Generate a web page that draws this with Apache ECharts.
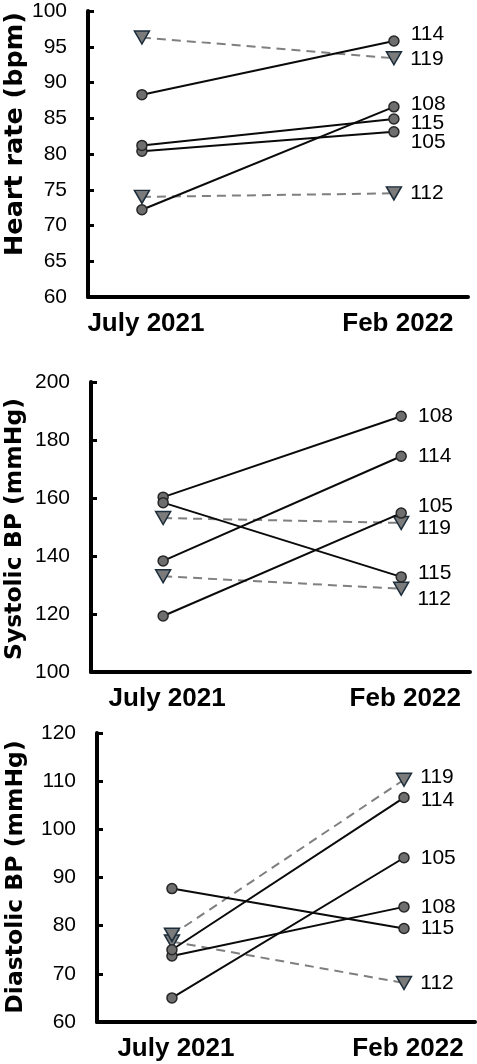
<!DOCTYPE html>
<html>
<head>
<meta charset="utf-8">
<script src="https://cdn.jsdelivr.net/npm/echarts@6/dist/echarts.min.js"></script>
<style>
html,body{margin:0;padding:0;background:#fff;}
#chart{width:477px;height:1064px;}
</style>
</head>
<body>
<div id="chart"></div>
<script>
// ---- data ----
const categories = ['July 2021', 'Feb 2022'];
const subjects = ['105', '108', '112', '114', '115', '119'];
const dashedSubjects = ['112', '119'];

const hrJuly  = [80.4, 72.2, 74.0, 88.3, 81.2, 96.3];
const hrFeb   = [83.1, 86.6, 74.5, 95.8, 84.9, 93.4];
const sbpJuly = [119.3, 160.3, 133.0, 138.3, 158.4, 153.1];
const sbpFeb  = [154.8, 188.2, 128.7, 174.4, 132.8, 151.4];
const dbpJuly = [65.0, 73.7, 76.7, 75.0, 87.7, 78.1];
const dbpFeb  = [94.1, 83.9, 68.1, 106.6, 79.4, 110.3];

const axisTitles = ['Heart rate (bpm)', 'Systolic BP (mmHg)', 'Diastolic BP (mmHg)'];
const yMin = [60, 100, 60];
const yMax = [100, 200, 120];
const yStep = [5, 20, 10];

// ---- layout / style ----
const panels = [
  { july: hrJuly, feb: hrFeb, grid: { left: 88, top: 11, width: 380, height: 286 }, xr: [-0.214, 1.294],
    title: { x: 15, y: 134, size: 25.5 },
    offs: { '114': -7, '119': 1, '108': -3, '115': 4, '105': 10, '112': 0 } },
  { july: sbpJuly, feb: sbpFeb, grid: { left: 91, top: 382, width: 379, height: 290 }, xr: [-0.303, 1.289],
    title: { x: 15, y: 529, size: 23.5 },
    offs: { '108': 0, '114': 0, '105': -7, '119': 5, '115': -4, '112': 10 } },
  { july: dbpJuly, feb: dbpFeb, grid: { left: 97, top: 733, width: 378, height: 289 }, xr: [-0.323, 1.306],
    title: { x: 16, y: 877, size: 23.5 },
    offs: { '119': -3, '114': 3, '105': 0, '108': 0, '115': 0, '112': 0 } }
];

const FONT = '"Liberation Sans", Arial, sans-serif';
const TITLE_FONT = '"DejaVu Sans", sans-serif';
const grids = [], xAxes = [], yAxes = [], series = [], graphics = [];

panels.forEach((p, i) => {
  grids.push(Object.assign({ containLabel: false, outerBoundsMode: 'none' }, p.grid));
  xAxes.push({
    type: 'value', gridIndex: i, min: p.xr[0], max: p.xr[1],
    axisLine: { show: true, onZero: false, lineStyle: { color: '#000', width: 4 } },
    axisTick: { show: false },
    splitLine: { show: false },
    axisLabel: {
      customValues: [0, 1],
      formatter: v => categories[Math.round(v)] || '',
      fontFamily: FONT, fontWeight: 'bold', fontSize: 26, color: '#000', margin: 14,
      padding: [0, 0, 0, 8]
    }
  });
  yAxes.push({
    type: 'value', gridIndex: i, min: yMin[i], max: yMax[i], interval: yStep[i],
    axisLine: { show: true, onZero: false, lineStyle: { color: '#000', width: 4 } },
    axisTick: { show: true, inside: true, length: 6, lineStyle: { color: '#000', width: 3 } },
    splitLine: { show: false },
    axisLabel: { fontFamily: FONT, fontSize: 21, color: '#000', margin: 21 }
  });
  graphics.push({
    type: 'text', x: p.title.x, y: p.title.y, rotation: Math.PI / 2, silent: true,
    style: {
      text: axisTitles[i], fill: '#000',
      font: 'bold ' + p.title.size + 'px ' + TITLE_FONT,
      textAlign: 'center', textVerticalAlign: 'middle',
      align: 'center', verticalAlign: 'middle'
    }
  });
  subjects.forEach((s, k) => {
    const dashed = dashedSubjects.includes(s);
    series.push({
      type: 'line', xAxisIndex: i, yAxisIndex: i, name: s + '_' + i,
      data: [
        { value: [0, p.july[k]] },
        { value: [1, p.feb[k]], label: { show: true, formatter: s, position: 'right', distance: dashed ? 8 : 11,
            offset: [0, p.offs[s] || 0], fontFamily: FONT, fontSize: 21, color: '#000' } }
      ],
      symbol: dashed ? 'triangle' : 'circle',
      symbolRotate: dashed ? 180 : 0,
      symbolSize: dashed ? [15, 13] : 10,
      showAllSymbol: true,
      z: dashed ? 3 : 4,
      itemStyle: dashed
        ? { color: '#7b7b7b', borderColor: '#1c2e3c', borderWidth: 1.5 }
        : { color: '#6e6e6e', borderColor: '#262626', borderWidth: 1.5 },
      lineStyle: dashed
        ? { color: '#7f7f7f', width: 2, type: [9, 6] }
        : { color: '#0a0a0a', width: 2 },
      emphasis: { disabled: true },
      animation: false
    });
  });
});

const chart = echarts.init(document.getElementById('chart'), null, { renderer: 'canvas' });
chart.setOption({
  animation: false,
  backgroundColor: '#fff',
  grid: grids, xAxis: xAxes, yAxis: yAxes, series: series, graphic: graphics
});
</script>
</body>
</html>
